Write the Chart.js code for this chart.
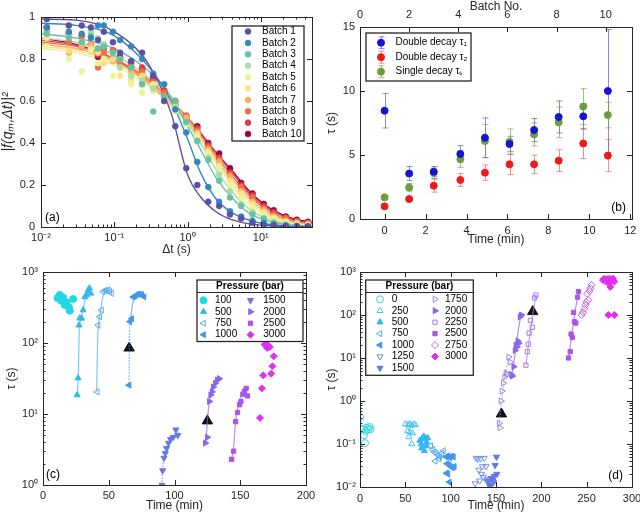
<!DOCTYPE html>
<html>
<head>
<meta charset="utf-8">
<script src="https://cdn.jsdelivr.net/npm/chart.js@4.4.0/dist/chart.umd.min.js"></script>
<style>
body { margin: 0; background: #fff; width: 640px; height: 514px; position: relative; overflow: hidden; }
canvas { position: absolute; }
</style>
</head>
<body>
<canvas id="ca" width="320" height="257" style="left:0;top:0"></canvas>
<canvas id="cb" width="320" height="257" style="left:320px;top:0"></canvas>
<canvas id="cc" width="320" height="257" style="left:0;top:257px"></canvas>
<canvas id="cd" width="320" height="257" style="left:320px;top:257px"></canvas>
<script>
// ---------- panel (a): correlation functions ----------
var batchNames = ['Batch 1','Batch 2','Batch 3','Batch 4','Batch 5','Batch 6','Batch 7','Batch 8','Batch 9','Batch 10'];
var batchColors = ['#5e4fa2','#3288bd','#66c2a5','#abdda4','#e6f598','#fee08b','#fdae61','#f46d43','#d53e4f','#9e0142'];
var dtData = [0.012, 0.024, 0.036, 0.048, 0.06, 0.072, 0.096, 0.12, 0.17, 0.24, 0.34, 0.48, 0.68, 0.96, 1.36, 1.92, 2.7, 3.8, 5.4, 7.7, 11, 15, 22, 31, 44];
var batch1 = [0.99, 0.96, 0.96, 0.95, 0.89, 0.93, 0.88, 0.83, 0.79, 0.83, 0.72, 0.6, 0.48, 0.28, 0.2, 0.12, 0.1, 0.06, 0.04, 0.02, 0.01, 0.01, 0.005, 0.003, 0.002];
var batch2 = [0.95, 0.93, 0.92, 0.9, 0.96, 0.96, 0.93, 0.89, 0.86, 0.8, 0.73, 0.68, 0.56, 0.45, 0.31, 0.19, 0.12, 0.075, 0.05, 0.03, 0.02, 0.01, 0.005, 0.003, 0.002];
var batch3 = [0.92, 0.9, 0.88, 0.91, 0.85, 0.86, 0.83, 0.8, 0.76, 0.68, 0.55, 0.62, 0.6, 0.5, 0.41, 0.32, 0.22, 0.14, 0.1, 0.06, 0.04, 0.02, 0.01, 0.005, 0.003];
var batch4 = [0.93, 0.91, 0.88, 0.93, 0.9, 0.87, 0.82, 0.76, 0.72, 0.7, 0.66, 0.62, 0.57, 0.5, 0.41, 0.33, 0.25, 0.17, 0.11, 0.07, 0.04, 0.022, 0.012, 0.007, 0.004];
var batch5 = [0.86, 0.8, 0.74, 0.84, 0.78, 0.8, 0.72, 0.76, 0.68, 0.64, 0.68, 0.6, 0.55, 0.49, 0.43, 0.35, 0.28, 0.2, 0.14, 0.095, 0.06, 0.038, 0.02, 0.012, 0.008];
var batch6 = [0.9, 0.84, 0.88, 0.85, 0.83, 0.78, 0.8, 0.72, 0.7, 0.72, 0.65, 0.6, 0.57, 0.5, 0.44, 0.36, 0.29, 0.22, 0.16, 0.11, 0.07, 0.045, 0.025, 0.015, 0.01];
var batch7 = [0.99, 0.83, 0.86, 0.87, 0.85, 0.86, 0.79, 0.8, 0.74, 0.68, 0.66, 0.62, 0.58, 0.52, 0.45, 0.37, 0.31, 0.24, 0.17, 0.12, 0.08, 0.05, 0.03, 0.02, 0.013];
var batch8 = [0.93, 0.88, 0.91, 0.84, 0.76, 0.83, 0.84, 0.78, 0.77, 0.74, 0.69, 0.64, 0.59, 0.53, 0.46, 0.38, 0.32, 0.25, 0.19, 0.14, 0.09, 0.06, 0.04, 0.025, 0.018];
var batch9 = [0.95, 0.92, 0.91, 0.87, 0.82, 0.85, 0.81, 0.8, 0.76, 0.76, 0.71, 0.65, 0.6, 0.53, 0.47, 0.39, 0.33, 0.26, 0.2, 0.15, 0.1, 0.07, 0.045, 0.03, 0.02];
var batch10 = [0.95, 0.92, 0.86, 0.87, 0.81, 0.86, 0.84, 0.81, 0.78, 0.75, 0.7, 0.64, 0.58, 0.52, 0.48, 0.4, 0.35, 0.28, 0.21, 0.16, 0.11, 0.08, 0.05, 0.035, 0.025];
var fitT = [0.01, 0.03, 0.1, 0.3, 0.6, 1, 1.5, 2.5, 4, 7, 12, 25, 50];
var fit1 = [0.99, 0.985, 0.93, 0.77, 0.54, 0.25, 0.144, 0.07, 0.035, 0.015, 0.007, 0.002, 0.001];
var fit2 = [0.97, 0.96, 0.91, 0.76, 0.6, 0.42, 0.26, 0.13, 0.07, 0.032, 0.014, 0.004, 0.001];
var fit3 = [0.92, 0.9, 0.85, 0.74, 0.62, 0.48, 0.37, 0.23, 0.14, 0.065, 0.03, 0.01, 0.003];
var fit4 = [0.9, 0.88, 0.82, 0.71, 0.61, 0.5, 0.4, 0.27, 0.17, 0.085, 0.04, 0.013, 0.004];
var fit5 = [0.85, 0.83, 0.77, 0.67, 0.58, 0.49, 0.41, 0.3, 0.2, 0.105, 0.052, 0.018, 0.006];
var fit6 = [0.86, 0.84, 0.78, 0.68, 0.59, 0.5, 0.42, 0.31, 0.215, 0.12, 0.06, 0.022, 0.008];
var fit7 = [0.87, 0.85, 0.79, 0.69, 0.6, 0.51, 0.43, 0.32, 0.23, 0.135, 0.07, 0.027, 0.01];
var fit8 = [0.88, 0.86, 0.8, 0.7, 0.6, 0.52, 0.44, 0.335, 0.245, 0.15, 0.082, 0.033, 0.014];
var fit9 = [0.89, 0.865, 0.8, 0.69, 0.6, 0.52, 0.45, 0.35, 0.26, 0.16, 0.092, 0.04, 0.018];
var fit10 = [0.9, 0.87, 0.8, 0.68, 0.58, 0.5, 0.44, 0.35, 0.27, 0.17, 0.1, 0.045, 0.022];
var aXTicks = [0.01, 0.1, 1, 10];
var aXLabels = ['10⁻²', '10⁻¹', '10⁰', '10¹'];
var aYTicks = [0, 0.2, 0.4, 0.6, 0.8, 1];
var aYLabels = ['0', '0.2', '0.4', '0.6', '0.8', '1'];

// ---------- panel (b): relaxation times vs time ----------
var timeMin = [0, 1.2, 2.4, 3.7, 4.9, 6.1, 7.3, 8.5, 9.7, 10.9];
var tau1 = [8.46, 3.55, 3.7, 5.08, 6.35, 5.86, 6.95, 7.97, 8.02, 10.0];
var tau1Err = [1.35, 0.55, 0.4, 0.65, 1.55, 0.6, 0.9, 1.25, 1.0, 4.8];
var tau2 = [0.99, 1.56, 2.6, 3.05, 3.62, 4.27, 4.27, 4.56, 5.9, 4.95];
var tau2Err = [0.12, 0.2, 0.5, 0.5, 0.6, 0.8, 0.72, 0.85, 1.18, 1.25];
var tauS = [1.69, 2.47, 3.62, 4.69, 6.09, 6.04, 6.61, 7.55, 8.78, 8.12];
var tauSErr = [0.15, 0.3, 0.45, 0.65, 1.3, 1.0, 0.9, 1.2, 1.4, 1.0];
var bTimeTicks = [0, 2, 4, 6, 8, 10, 12];
var bBatchTicks = [0, 2, 4, 6, 8, 10];
var bYTicks = [0, 5, 10, 15];

// ---------- panel (c) ----------
var c100t = [11, 12.7, 14, 15.2, 16.5, 17.8, 19.8, 20.4, 22.9];
var c100y = [430, 475, 394, 440, 343, 374, 318, 285, 416];
var c500t = [26, 26.7, 27.4, 28, 29.3, 30.5, 31.8, 33.1, 34.3, 35.3, 36.3];
var c500y = [18.5, 32, 178, 225, 222, 291, 444, 474, 552, 590, 500];
var c750t = [41.2, 41.9, 43.2, 44.5, 45.7, 47, 48.3, 49.6, 50.8, 52.1];
var c750y = [20.5, 178, 234, 291, 527, 550, 545, 560, 527, 500];
var c1000t = [65.5, 66.1, 67.4, 68.6, 69.9, 71.2, 72.4, 73.7, 75, 76.8];
var c1000y = [25.5, 200, 220, 444, 458, 480, 490, 484, 480, 448];
var c1500t = [90.5, 91, 92, 93, 94, 95.5, 97, 99, 101, 102.5];
var c1500y = [1.0, 1.6, 2.4, 2.8, 3.3, 3.9, 4.4, 4.7, 6.0, 5.0];
var c2000t = [123.5, 125, 126.5, 127.5, 128.5, 129.5, 131, 132.5, 134];
var c2000y = [3.9, 4.7, 15, 18.5, 20.5, 24, 27, 30, 31.5];
var c2500t = [143.5, 145, 146.5, 148, 149.5, 150.5, 152, 153.2, 154.5, 155.5];
var c2500y = [2.3, 3.0, 7.8, 10.5, 13.5, 15, 19, 21, 23, 18];
var c3000t = [165, 166.5, 167.5, 168.5, 169.5, 170.5, 171.5, 172.5, 173.5, 174.5, 175.5];
var c3000y = [8.8, 23, 35, 95, 105, 85, 90, 88, 37, 47, 65];
var cFit500t = [26, 26.8, 27.6, 29, 30.5, 32.5, 35];
var cFit500y = [18, 32, 150, 220, 300, 450, 560];
var cFit750t = [40.8, 41.5, 42.2, 43.5, 45, 47, 50];
var cFit750y = [20.5, 100, 185, 260, 400, 530, 560];
var cFit1000at = [65.5, 65.6, 66];
var cFit1000ay = [25, 85, 190];
var cFit1000bt = [66, 67, 68.5, 70.5, 73, 76];
var cFit1000by = [190, 250, 380, 470, 490, 470];
var cFit1500t = [90.3, 91, 92, 93.5, 95.5, 98, 101, 103];
var cFit1500y = [1.0, 1.6, 2.4, 3.0, 3.8, 4.6, 5.3, 5.6];
var cFit2000t = [124, 125, 126.5, 128.5, 131, 134];
var cFit2000y = [4, 8, 15, 21, 27, 32];
var cFit2500t = [143.5, 145, 146.5, 148.5, 151, 154];
var cFit2500y = [2.3, 3.5, 8, 13, 19, 22];
var cArrowT = [65.5, 125];
var cArrowY = [85, 8];

// ---------- panel (d) ----------
var d0t = [0, 0.5, 3, 4.5, 5.5, 6.5, 7.5, 9, 10.5, 11.5];
var d0y = [0.42, 0.23, 0.22, 0.16, 0.105, 0.2, 0.24, 0.22, 0.25, 0.22];
var d250t = [50, 53, 55, 57, 59, 61, 52.5, 55, 58, 54, 57];
var d250y = [0.29, 0.28, 0.29, 0.27, 0.29, 0.28, 0.2, 0.19, 0.18, 0.145, 0.1];
var d500t = [66, 67.5, 69, 70.5, 72, 73, 74.5, 68, 71, 73.5];
var d500y = [0.12, 0.1, 0.14, 0.15, 0.13, 0.09, 0.14, 0.08, 0.07, 0.11];
var d750t = [78, 80, 82, 84, 86, 88, 90, 92, 83, 87];
var d750y = [0.09, 0.075, 0.065, 0.06, 0.055, 0.05, 0.06, 0.07, 0.04, 0.045];
var d1000t = [95, 97, 99, 101, 103, 104, 96, 98, 100, 102, 95.5, 97, 98.5];
var d1000y = [0.05, 0.053, 0.048, 0.052, 0.05, 0.03, 0.035, 0.033, 0.03, 0.028, 0.021, 0.02, 0.013];
var d1250t = [128, 130, 133, 135, 137, 139, 131, 134, 136, 127, 132, 140];
var d1250y = [0.047, 0.045, 0.046, 0.03, 0.047, 0.03, 0.025, 0.02, 0.017, 0.012, 0.014, 0.015];
var d1500t = [140, 141.5, 143, 144.5, 146, 147.5, 149, 150.5, 151, 143.5, 146.5, 148];
var d1500y = [0.014, 0.013, 0.011, 0.016, 0.015, 0.013, 0.032, 0.05, 0.02, 0.01, 0.014, 0.018];
var d1750t = [153.5, 154.5, 155.5, 156.5, 158, 159.5, 161, 162.5, 164, 166];
var d1750y = [0.3, 0.24, 1.0, 1.7, 2.6, 3.6, 4.5, 4.2, 10.5, 8];
var d2000t = [166.5, 168, 169.5, 171, 172, 173, 174, 175, 176.5, 178];
var d2000y = [4.2, 3.8, 6.3, 15, 20, 18, 25, 22, 90, 100];
var d2250t = [183, 184.5, 185.5, 186.5, 188, 190, 192.5, 194];
var d2250y = [6.8, 14, 21, 38, 75, 52, 250, 290];
var d2500t = [230, 231.8, 232.8, 234.2, 235.5, 236.5, 238, 240, 241];
var d2500y = [10, 14, 36, 30, 115, 70, 65, 260, 350];
var d2750t = [244.5, 246, 247.5, 248.5, 249.5, 250.5, 252, 253, 254, 255.5];
var d2750y = [100, 115, 140, 170, 200, 310, 220, 360, 420, 500];
var d3000t = [268, 269.5, 271, 272.5, 274, 275, 276, 277.5, 279, 280.5, 274, 280.5];
var d3000y = [650, 700, 620, 680, 560, 700, 450, 620, 700, 600, 100, 100];
var dFit1750t = [153, 155, 157, 159, 161, 163.5];
var dFit1750y = [0.25, 0.6, 1.5, 3, 5, 9];
var dFit2000t = [167, 169, 171, 173, 175, 177.5];
var dFit2000y = [3.8, 6, 13, 25, 50, 100];
var dFit2250t = [183, 185, 187, 189, 191, 194];
var dFit2250y = [6.8, 15, 30, 60, 120, 290];
var dFit2500t = [230, 232, 234, 236, 238, 241];
var dFit2500y = [10, 20, 40, 80, 150, 350];
var dArrowT = [156, 190.5];
var dArrowY = [0.5, 120];

var cXTicks = [0, 50, 100, 150, 200];
var dXTicks = [0, 50, 100, 150, 200, 250, 300];
var cYDecades = [1, 10, 100, 1000];
var cYLabels = ['10⁰', '10¹', '10²', '10³'];
var dYDecades = [0.01, 0.1, 1, 10, 100, 1000];
var dYLabels = ['10⁻²', '10⁻¹', '10⁰', '10¹', '10²', '10³'];

// ---------- helpers ----------
var FONT = "'Liberation Sans', Arial, Helvetica, sans-serif";
Chart.defaults.font.family = FONT;
Chart.defaults.font.size = 11;
Chart.defaults.color = '#262626';
Chart.defaults.animation = false;
Chart.defaults.plugins.legend.display = false;
Chart.defaults.plugins.tooltip.enabled = false;

function pts(xs, ys) {
  return xs.map(function (x, i) { return {x: x, y: ys[i]}; });
}
// decade ticks plus 2..9 minor ticks
function withMinor(decades, max) {
  var out = [];
  decades.forEach(function (d) {
    for (var k = 1; k < 10; k++) {
      var v = d * k;
      if (v <= max * 1.0001) out.push(v);
    }
  });
  return out;
}
function fixedTicks(vals) {
  return function (s) { s.ticks = vals.map(function (v) { return {value: v}; }); };
}
function labelFrom(vals, labels) {
  return function (v) {
    for (var i = 0; i < vals.length; i++) {
      if (Math.abs(vals[i] - v) < 1e-9 * Math.max(1, Math.abs(vals[i]))) return labels[i];
    }
    return '';
  };
}
function fitSize(w, h) {
  return function (s) {
    if (w != null) s.width = w;
    if (h != null) s.height = h;
    s.paddingLeft = 0; s.paddingRight = 0; s.paddingTop = 0; s.paddingBottom = 0;
  };
}
function axis(o) {
  var a = {
    grid: {display: false, drawTicks: false},
    border: {display: false},
    ticks: {autoSkip: false, maxRotation: 0, minRotation: 0, padding: o.pad || 4, color: '#262626', font: {size: 11}},
    afterBuildTicks: fixedTicks(o.ticks),
    afterFit: fitSize(o.w, o.h)
  };
  if (o.callback) a.ticks.callback = o.callback;
  if (o.title) a.title = {display: true, text: o.title, color: '#262626', font: {size: o.tsize || 12, style: o.italic ? 'italic' : 'normal'}, padding: o.tpad};
  ['type', 'min', 'max', 'position', 'axis'].forEach(function (k) { if (o[k] != null) a[k] = o[k]; });
  return a;
}

// box around plot area with inward ticks (MATLAB style)
var framePlugin = {
  id: 'frame',
  afterDatasetsDraw: function (chart) {
    var ctx = chart.ctx, a = chart.chartArea, sc = chart.scales;
    ctx.save();
    ctx.strokeStyle = '#262626';
    ctx.lineWidth = 1;
    ctx.strokeRect(Math.round(a.left) + 0.5, Math.round(a.top) + 0.5, Math.round(a.right - a.left), Math.round(a.bottom - a.top));
    ctx.beginPath();
    function len(t) { return t.label ? 5 : 2.5; }
    sc.x.ticks.forEach(function (t) {
      var p = Math.round(sc.x.getPixelForValue(t.value)) + 0.5;
      ctx.moveTo(p, a.bottom); ctx.lineTo(p, a.bottom - len(t));
      if (!sc.x2) { ctx.moveTo(p, a.top); ctx.lineTo(p, a.top + len(t)); }
    });
    if (sc.x2) {
      sc.x2.ticks.forEach(function (t) {
        var p = Math.round(sc.x2.getPixelForValue(t.value)) + 0.5;
        ctx.moveTo(p, a.top); ctx.lineTo(p, a.top + len(t));
      });
    }
    sc.y.ticks.forEach(function (t) {
      var p = Math.round(sc.y.getPixelForValue(t.value)) + 0.5;
      ctx.moveTo(a.left, p); ctx.lineTo(a.left + len(t), p);
      ctx.moveTo(a.right, p); ctx.lineTo(a.right - len(t), p);
    });
    ctx.stroke();
    ctx.restore();
  }
};

var errPlugin = {
  id: 'errBars',
  beforeDatasetsDraw: function (chart) {
    var ctx = chart.ctx, x = chart.scales.x, y = chart.scales.y;
    chart.data.datasets.forEach(function (ds) {
      if (!ds.errors) return;
      ctx.save();
      ctx.strokeStyle = ds.errColor;
      ctx.lineWidth = 1;
      ctx.beginPath();
      ds.data.forEach(function (p, i) {
        var px = Math.round(x.getPixelForValue(p.x)) + 0.5, e = ds.errors[i];
        var top = y.getPixelForValue(p.y + e), bot = y.getPixelForValue(p.y - e);
        ctx.moveTo(px, top); ctx.lineTo(px, bot);
        ctx.moveTo(px - 3, top); ctx.lineTo(px + 3, top);
        ctx.moveTo(px - 3, bot); ctx.lineTo(px + 3, bot);
      });
      ctx.stroke();
      ctx.restore();
    });
  }
};

function legendPlugin(L) {
  return {
    id: 'boxLegend',
    afterDraw: function (chart) {
      var ctx = chart.ctx;
      var items = chart.data.datasets.filter(function (d) { return d.inLegend; });
      ctx.save();
      ctx.fillStyle = '#fff';
      ctx.fillRect(L.box[0], L.box[1], L.box[2], L.box[3]);
      ctx.strokeStyle = '#262626';
      ctx.lineWidth = 1.3;
      ctx.strokeRect(L.box[0], L.box[1], L.box[2], L.box[3]);
      if (L.title) {
        ctx.fillStyle = '#000';
        ctx.font = 'bold 10px ' + FONT;
        ctx.textAlign = 'center';
        ctx.textBaseline = 'middle';
        ctx.fillText(L.title, L.box[0] + L.box[2] / 2, L.titleY);
        ctx.lineWidth = 1;
        ctx.beginPath();
        ctx.moveTo(L.box[0], L.sepY); ctx.lineTo(L.box[0] + L.box[2], L.sepY);
        ctx.stroke();
      }
      var idx = 0;
      L.cols.forEach(function (col) {
        for (var r = 0; r < col.n && idx < items.length; r++, idx++) {
          var ds = items[idx];
          var yy = L.y0 + r * L.dy;
          if (ds.errors) {
            ctx.strokeStyle = ds.errColor;
            ctx.lineWidth = 1;
            ctx.beginPath();
            ctx.moveTo(col.mx + 0.5, yy - 6); ctx.lineTo(col.mx + 0.5, yy + 6);
            ctx.moveTo(col.mx - 2.5, yy - 6); ctx.lineTo(col.mx + 3.5, yy - 6);
            ctx.moveTo(col.mx - 2.5, yy + 6); ctx.lineTo(col.mx + 3.5, yy + 6);
            ctx.stroke();
          }
          ctx.fillStyle = ds.pointBackgroundColor;
          ctx.strokeStyle = ds.pointBorderColor;
          ctx.lineWidth = ds.pointBorderWidth || 1;
          Chart.helpers.drawPoint(ctx, {
            pointStyle: ds.pointStyle || 'circle',
            rotation: ds.pointRotation || 0,
            radius: ds.pointRadius,
            borderWidth: ds.pointBorderWidth || 1
          }, col.mx, yy);
          ctx.fillStyle = '#000';
          ctx.font = '10px ' + FONT;
          ctx.textAlign = 'left';
          ctx.textBaseline = 'middle';
          ctx.fillText(ds.label, col.tx, yy);
        }
      });
      ctx.restore();
    }
  };
}

function panelLabel(text, x, y, align) {
  return {
    id: 'panelLabel',
    afterDraw: function (chart) {
      var ctx = chart.ctx;
      ctx.save();
      ctx.fillStyle = '#000';
      ctx.font = '12px ' + FONT;
      ctx.textAlign = align;
      ctx.textBaseline = 'middle';
      ctx.fillText(text, x, y);
      ctx.restore();
    }
  };
}

function marker(label, xs, ys, color, style, rot, open, r) {
  return {
    label: label, inLegend: true,
    data: pts(xs, ys),
    pointStyle: style, pointRotation: rot || 0,
    pointRadius: r || 3.5,
    pointBackgroundColor: open ? 'rgba(0,0,0,0)' : color,
    pointBorderColor: color,
    pointBorderWidth: 1,
    backgroundColor: color, borderColor: color
  };
}
function fitLine(xs, ys, color, dashed) {
  return {
    data: pts(xs, ys), showLine: true, pointRadius: 0,
    borderColor: color, borderWidth: 1.2,
    borderDash: dashed ? [1.5, 1.5] : [],
    cubicInterpolationMode: 'monotone'
  };
}
function arrows(xs, ys) {
  return {
    data: pts(xs, ys), pointStyle: 'triangle', pointRadius: 6,
    pointBackgroundColor: '#111', pointBorderColor: '#111', pointBorderWidth: 1
  };
}

// ---------- chart (a) ----------
var aBatches = [batch1, batch2, batch3, batch4, batch5, batch6, batch7, batch8, batch9, batch10];
var aFits = [fit1, fit2, fit3, fit4, fit5, fit6, fit7, fit8, fit9, fit10];
var aSets = [];
aBatches.forEach(function (b, i) {
  aSets.push({
    label: batchNames[i], inLegend: true, data: pts(dtData, b),
    pointStyle: 'circle', pointRadius: 3,
    pointBackgroundColor: batchColors[i], pointBorderColor: batchColors[i], pointBorderWidth: 0.5,
    backgroundColor: batchColors[i], borderColor: batchColors[i]
  });
});
aFits.forEach(function (f, i) {
  aSets.push({
    data: pts(fitT, f), showLine: true, pointRadius: 0,
    borderColor: batchColors[i], borderWidth: 1.4, cubicInterpolationMode: 'monotone'
  });
});

new Chart(document.getElementById('ca'), {
  type: 'scatter',
  data: {datasets: aSets},
  options: {
    responsive: false, devicePixelRatio: 1,
    layout: {padding: {top: 17, right: 8, left: 0, bottom: 0}},
    scales: {
      x: axis({type: 'logarithmic', min: 0.01, max: 50, ticks: withMinor(aXTicks, 50), h: 30, pad: 4,
        callback: labelFrom(aXTicks, aXLabels), title: 'Δt (s)', tpad: {top: 0, bottom: 0}}),
      y: axis({min: 0, max: 1, ticks: aYTicks, w: 41, pad: 6,
        callback: labelFrom(aYTicks, aYLabels), title: '|f(qₘ,Δt)|²', italic: true, tsize: 14, tpad: {top: 0, bottom: 0}})
    }
  },
  plugins: [framePlugin,
    legendPlugin({box: [232, 26, 72, 115], y0: 31.5, dy: 11.4, cols: [{mx: 248, tx: 262, n: 10}]}),
    panelLabel('(a)', 45, 218, 'left')]
});

// ---------- chart (b) ----------
function errSet(label, ys, errs, color, errColor) {
  return {
    label: label, inLegend: true, data: pts(timeMin, ys), errors: errs, errColor: errColor,
    pointStyle: 'circle', pointRadius: 3.5,
    pointBackgroundColor: color, pointBorderColor: color, pointBorderWidth: 1,
    backgroundColor: color, borderColor: color
  };
}
new Chart(document.getElementById('cb'), {
  type: 'scatter',
  data: {datasets: [
    errSet('Double decay τ₁', tau1, tau1Err, '#1414d2', 'rgba(60,60,225,0.6)'),
    errSet('Double decay τ₂', tau2, tau2Err, '#ee1a1a', 'rgba(240,70,70,0.6)'),
    errSet('Single decay τₛ', tauS, tauSErr, '#6a9e3a', 'rgba(110,160,60,0.65)')
  ]},
  options: {
    responsive: false, devicePixelRatio: 1,
    layout: {padding: {top: 0, right: 8, left: 0, bottom: 0}},
    scales: {
      x: axis({min: -1.2, max: 12.08, ticks: bTimeTicks, h: 38, pad: 5, title: 'Time (min)', tpad: {top: 0, bottom: 10}}),
      x2: axis({axis: 'x', position: 'top', min: 0, max: 11.07, ticks: bBatchTicks, h: 27, pad: 5, title: 'Batch No.', tpad: {top: -1, bottom: 0}}),
      y: axis({min: 0, max: 15, ticks: bYTicks, w: 40, pad: 5, title: 'τ (s)', tpad: {top: 4.5, bottom: 0}})
    }
  },
  plugins: [errPlugin, framePlugin,
    legendPlugin({box: [46, 33, 105, 48], y0: 42.7, dy: 14.5, cols: [{mx: 61, tx: 75.5, n: 3}]}),
    panelLabel('(b)', 306, 208, 'right')]
});

// ---------- chart (c) ----------
var cSets = [
  marker('100', c100t, c100y, '#1fd8e6', 'circle', 0, false),
  marker('500', c500t, c500y, '#33b8ee', 'triangle', 0, false),
  marker('750', c750t, c750y, '#55aaee', 'triangle', 270, true),
  marker('1000', c1000t, c1000y, '#4696ee', 'triangle', 270, false),
  marker('1500', c1500t, c1500y, '#6478e8', 'triangle', 180, false),
  marker('2000', c2000t, c2000y, '#8a66ee', 'triangle', 90, false),
  marker('2500', c2500t, c2500y, '#aa55ea', 'rect', 0, false, 3),
  marker('3000', c3000t, c3000y, '#e030f0', 'rectRot', 0, false),
  fitLine(cFit500t, cFit500y, 'rgba(51,184,238,0.7)'),
  fitLine(cFit750t, cFit750y, 'rgba(85,170,238,0.7)'),
  fitLine(cFit1000at, cFit1000ay, 'rgba(70,150,238,0.8)', true),
  fitLine(cFit1000bt, cFit1000by, 'rgba(70,150,238,0.7)'),
  fitLine(cFit1500t, cFit1500y, 'rgba(100,120,232,0.8)', true),
  fitLine(cFit2000t, cFit2000y, 'rgba(138,102,238,0.7)'),
  fitLine(cFit2500t, cFit2500y, 'rgba(170,85,234,0.7)'),
  arrows(cArrowT, cArrowY)
];
new Chart(document.getElementById('cc'), {
  type: 'scatter',
  data: {datasets: cSets},
  options: {
    responsive: false, devicePixelRatio: 1,
    layout: {padding: {top: 15, right: 14, left: 0, bottom: 0}},
    scales: {
      x: axis({min: 0, max: 200, ticks: cXTicks, h: 29, pad: 4, title: 'Time (min)', tpad: {top: 0, bottom: 1.5}}),
      y: axis({type: 'logarithmic', min: 1, max: 1000, ticks: withMinor(cYDecades, 1000), w: 43, pad: 5,
        callback: labelFrom(cYDecades, cYLabels), title: 'τ (s)', tpad: {top: 4.5, bottom: 0}})
    }
  },
  plugins: [framePlugin,
    legendPlugin({box: [197, 23, 106, 61.5], title: 'Pressure (bar)', titleY: 29.5, sepY: 35.5,
      y0: 43.3, dy: 11.47, cols: [{mx: 203.5, tx: 215, n: 4}, {mx: 250.5, tx: 263.3, n: 4}]}),
    panelLabel('(c)', 46, 217.5, 'left')]
});

// ---------- chart (d) ----------
var dSets = [
  marker('0', d0t, d0y, '#33d6e6', 'circle', 0, true),
  marker('250', d250t, d250y, '#3ec6ee', 'triangle', 0, true),
  marker('500', d500t, d500y, '#33b8ee', 'triangle', 0, false),
  marker('750', d750t, d750y, '#55aaee', 'triangle', 270, true),
  marker('1000', d1000t, d1000y, '#4696ee', 'triangle', 270, false),
  marker('1250', d1250t, d1250y, '#7090ee', 'triangle', 180, true),
  marker('1500', d1500t, d1500y, '#6478e8', 'triangle', 180, false),
  marker('1750', d1750t, d1750y, '#9a88f0', 'triangle', 90, true),
  marker('2000', d2000t, d2000y, '#8a66ee', 'triangle', 90, false),
  marker('2250', d2250t, d2250y, '#a878ee', 'rect', 0, true, 3),
  marker('2500', d2500t, d2500y, '#aa55ea', 'rect', 0, false, 3),
  marker('2750', d2750t, d2750y, '#c060ee', 'rectRot', 0, true),
  marker('3000', d3000t, d3000y, '#e030f0', 'rectRot', 0, false),
  fitLine(dFit1750t, dFit1750y, 'rgba(154,136,240,0.8)', true),
  fitLine(dFit2000t, dFit2000y, 'rgba(138,102,238,0.7)'),
  fitLine(dFit2250t, dFit2250y, 'rgba(168,120,238,0.7)'),
  fitLine(dFit2500t, dFit2500y, 'rgba(170,85,234,0.7)'),
  arrows(dArrowT, dArrowY)
];
new Chart(document.getElementById('cd'), {
  type: 'scatter',
  data: {datasets: dSets},
  options: {
    responsive: false, devicePixelRatio: 1,
    layout: {padding: {top: 15, right: 8, left: 0, bottom: 0}},
    scales: {
      x: axis({min: 0, max: 300, ticks: dXTicks, h: 27, pad: 5, title: 'Time (min)', tpad: {top: 0, bottom: 1.5}}),
      y: axis({type: 'logarithmic', min: 0.01, max: 1000, ticks: withMinor(dYDecades, 1000), w: 40, pad: 4,
        callback: labelFrom(dYDecades, dYLabels), title: 'τ (s)', tpad: {top: 4.5, bottom: 0}})
    }
  },
  plugins: [framePlugin,
    legendPlugin({box: [45.7, 23, 107.6, 95.3], title: 'Pressure (bar)', titleY: 29, sepY: 35.5,
      y0: 42.3, dy: 11.45, cols: [{mx: 60, tx: 71.7, n: 7}, {mx: 115, tx: 125, n: 6}]}),
    panelLabel('(d)', 303, 219, 'right')]
});
</script>
</body>
</html>
